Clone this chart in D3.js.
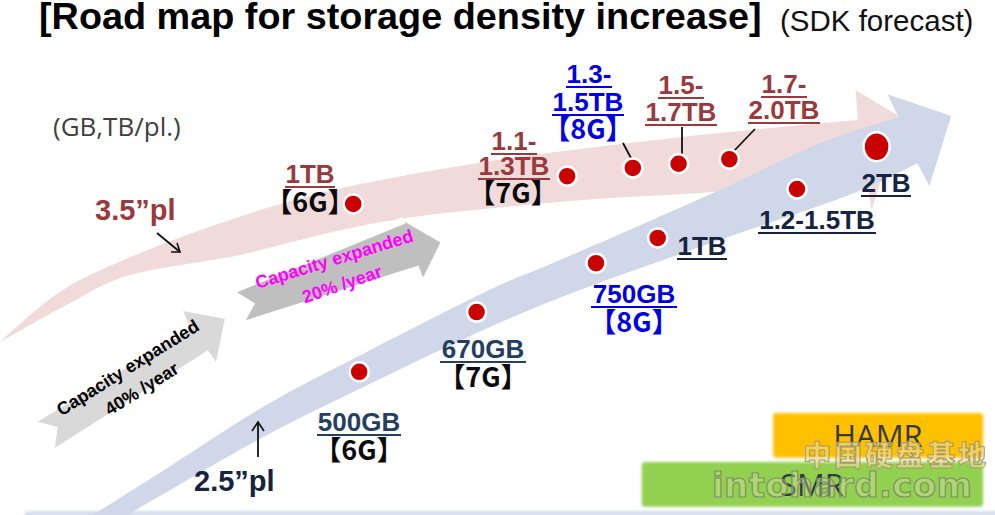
<!DOCTYPE html>
<html>
<head>
<meta charset="utf-8">
<script src="https://cdn.jsdelivr.net/npm/d3@7"></script>
<style>
  html, body { margin: 0; padding: 0; background: #fff; }
  svg { display: block; }
  text { font-family: "Liberation Sans", Arial, sans-serif; }
</style>
</head>
<body>
<script>
// values, x and y are both on a 0-100 roadmap scale
var pl35Names = ["1TB", "1.1-1.3TB", "1.3-1.5TB", "1.5-1.7TB", "1.7-2.0TB"];
var pl35Time = [35.5, 57, 63.6, 68.2, 73.3];
var pl35Density = [60.4, 65.8, 67.4, 68.2, 69.1];

var pl25Names = ["500GB", "670GB", "750GB", "1TB", "1.2-1.5TB", "2TB"];
var pl25Time = [36.1, 47.9, 59.9, 66.1, 80.1, 88.1];
var pl25Density = [27.8, 39.4, 48.9, 53.8, 63.3, 71.5];

// trend arrows, upper edge then head then lower edge
var redUpperX = [0, 6, 12.4, 23.1, 33.5, 48.5, 55.1, 70.4, 86.2];
var redUpperY = [33.6, 43.3, 49.5, 57.3, 63.1, 68.5, 70.3, 73.8, 76.7];
var redHeadX = [86, 90.5, 87.6];
var redHeadY = [82.5, 77.3, 59.2];
var redLowerX = [87, 71.6, 60.3, 49.7, 40.2, 33.5, 24.1, 12.4, 6.7, 0];
var redLowerY = [66, 62.7, 61.4, 59.6, 57.5, 55, 50.5, 46.2, 40.8, 33.6];

var blueUpperX = [9.3, 16.8, 26.8, 36.9, 50.3, 54.8, 71.6, 83.2, 90.3];
var blueUpperY = [0, 9.1, 21.4, 31.7, 44.7, 48.3, 62.5, 72.8, 77.3];
var blueHeadX = [89.2, 95.6, 93.4];
var blueHeadY = [81.7, 77.5, 63.9];
var blueLowerX = [92.2, 86.6, 73.2, 67.5, 57.5, 49.7, 36.9, 26.8, 12.8];
var blueLowerY = [68.3, 63.1, 54, 50.1, 43.1, 36.9, 25.2, 15.5, 0];

var growth40X = [3.8, 5.8, 5.5, 20.9, 21.7, 22.6, 18.4, 19.2];
var growth40Y = [18.1, 17.1, 13.0, 32, 29.7, 38.1, 39.6, 36.1];
var growth20X = [23.6, 25.5, 24.5, 42, 42.5, 44.4, 40.2, 40.6];
var growth20Y = [43.3, 41, 37.5, 48.2, 45.6, 53, 57.7, 56.7];

var techNames = ["HAMR", "SMR"];
var techStart = [77.7, 64.5];
var techEnd = [98.8, 98.8];
var techLow = [11.1, 1.6];
var techHigh = [19.8, 10.3];

var width = 995, height = 515;

var x = d3.scaleLinear().domain([0, 100]).range([0, width]);
var y = d3.scaleLinear().domain([0, 100]).range([height, 0]);

var svg = d3.select("body").append("svg")
    .attr("width", width)
    .attr("height", height);

svg.append("defs").append("filter").attr("id", "soft")
    .attr("x", "-5%").attr("y", "-20%").attr("width", "110%").attr("height", "140%")
    .append("feGaussianBlur").attr("stdDeviation", 1.6);

var zipPoints = function(xs, ys) {
  return xs.map(function(v, i) { return [x(v), y(ys[i])]; });
}

var edge = d3.line().curve(d3.curveCatmullRom.alpha(0.5));
var polyLine = d3.line().curve(d3.curveLinear);

var arrowPath = function(ux, uy, hx, hy, lx, ly) {
  var head = polyLine(zipPoints(hx, hy)).replace("M", "L");
  var lower = edge(zipPoints(lx, ly)).replace("M", "L");
  return edge(zipPoints(ux, uy)) + head + lower + "Z";
}

// bottom strip of the slide
svg.append("rect")
    .attr("x", 25).attr("y", 511).attr("width", width).attr("height", 8)
    .attr("fill", "#d5deea")
    .attr("filter", "url(#soft)");

svg.append("path")
    .attr("d", arrowPath(redUpperX, redUpperY, redHeadX, redHeadY, redLowerX, redLowerY))
    .attr("fill", "#f0dbda");

svg.append("path")
    .attr("d", arrowPath(blueUpperX, blueUpperY, blueHeadX, blueHeadY, blueLowerX, blueLowerY))
    .attr("fill", "#cfd7e8");

// capacity growth arrows
svg.append("path")
    .attr("d", polyLine(zipPoints(growth40X, growth40Y)) + "Z")
    .attr("fill", "#d9d9d9");
svg.append("path")
    .attr("d", polyLine(zipPoints(growth20X, growth20Y)) + "Z")
    .attr("fill", "#bfbfbf")
    .attr("stroke", "#fff")
    .attr("stroke-width", 2);

// technology bars
svg.selectAll(".tech")
    .data(techNames)
    .enter().append("rect")
    .attr("class", "tech")
    .attr("x", function(d, i) { return x(techStart[i]); })
    .attr("y", function(d, i) { return y(techHigh[i]); })
    .attr("width", function(d, i) { return x(techEnd[i]) - x(techStart[i]); })
    .attr("height", function(d, i) { return y(techLow[i]) - y(techHigh[i]); })
    .attr("rx", 3)
    .attr("fill", function(d, i) { return i == 0 ? "#ffc000" : "#92d050"; })
    .attr("filter", "url(#soft)");

svg.selectAll(".techLabel")
    .data(techNames)
    .enter().append("text")
    .attr("class", "techLabel")
    .attr("x", function(d, i) { return i == 0 ? 878 : 812; })
    .attr("y", function(d, i) { return i == 0 ? 447 : 496; })
    .attr("text-anchor", "middle")
    .style("font-family", "'Open Sans'")
    .style("font-size", "31px")
    .attr("fill", "#333a44")
    .text(function(d) { return d; });

// leader lines and small arrows
var strokes = [[623, 143, 632, 160], [682, 127, 682, 157], [755, 129, 732, 153],
               [157, 233, 180, 252], [258, 457, 258, 422]];
svg.selectAll(".stroke")
    .data(strokes)
    .enter().append("line")
    .attr("class", "stroke")
    .attr("x1", function(d) { return d[0]; })
    .attr("y1", function(d) { return d[1]; })
    .attr("x2", function(d) { return d[2]; })
    .attr("y2", function(d) { return d[3]; })
    .attr("stroke", "#111")
    .attr("stroke-width", 1.8);
svg.append("path").attr("d", "M171,252L180,252L177,243").attr("fill", "none").attr("stroke", "#111").attr("stroke-width", 1.6);
svg.append("path").attr("d", "M252,431L258,422L264,431").attr("fill", "none").attr("stroke", "#111").attr("stroke-width", 1.6);

// capacity dots
var drawDots = function(names, times, values) {
  svg.selectAll(null)
      .data(names)
      .enter().append("ellipse")
      .attr("cx", function(d, i) { return x(times[i]); })
      .attr("cy", function(d, i) { return y(values[i]); })
      .attr("rx", function(d) { return d == "2TB" ? 13 : 9.5; })
      .attr("ry", function(d) { return d == "2TB" ? 14.5 : 9.5; })
      .attr("fill", "#c90000")
      .attr("stroke", "#fff")
      .attr("stroke-width", 2.5);
}
drawDots(pl35Names, pl35Time, pl35Density);
drawDots(pl25Names, pl25Time, pl25Density);

// labels: text, center x, baseline, colour, underline half width
var brown = "#983a3e", navy = "#16243f", blue = "#0000e1", slate = "#24405f", black = "#0a0a0a";
var labels = [
  ["1TB", 310, 183, brown, 25],
  ["1.1-", 514, 150, brown, 23],
  ["1.3TB", 514, 175, brown, 36],
  ["1.3-", 589, 83, blue, 23],
  ["1.5TB", 588, 111, blue, 36],
  ["1.5-", 681, 94, brown, 23],
  ["1.7TB", 681, 121, brown, 36],
  ["1.7-", 784, 93, brown, 23],
  ["2.0TB", 784, 119, brown, 36],
  ["2TB", 886, 192, navy, 25],
  ["1.2-1.5TB", 817, 229, navy, 59],
  ["1TB", 702, 255, navy, 25],
  ["750GB", 634, 303, blue, 43],
  ["670GB", 483, 358, slate, 43],
  ["500GB", 359, 431, slate, 42]
];
svg.selectAll(".cap")
    .data(labels)
    .enter().append("text")
    .attr("class", "cap")
    .attr("x", function(d) { return d[1]; })
    .attr("y", function(d) { return d[2]; })
    .attr("text-anchor", "middle")
    .attr("fill", function(d) { return d[3]; })
    .style("font-size", "26px")
    .style("font-weight", "bold")
    .text(function(d) { return d[0]; });
svg.selectAll(".rule")
    .data(labels)
    .enter().append("line")
    .attr("class", "rule")
    .attr("x1", function(d) { return d[1] - d[4]; })
    .attr("x2", function(d) { return d[1] + d[4]; })
    .attr("y1", function(d) { return d[2] + 4; })
    .attr("y2", function(d) { return d[2] + 4; })
    .attr("stroke", function(d) { return d[3]; })
    .attr("stroke-width", 1.8);

var gens = [
  ["【6G】", 310, 212, black],
  ["【7G】", 513, 203, black],
  ["【8G】", 588, 139, blue],
  ["【8G】", 634, 332, blue],
  ["【7G】", 483, 387, black],
  ["【6G】", 359, 460, black]
];
svg.selectAll(".gen")
    .data(gens)
    .enter().append("text")
    .attr("class", "gen")
    .attr("x", function(d) { return d[1]; })
    .attr("y", function(d) { return d[2]; })
    .attr("text-anchor", "middle")
    .attr("fill", function(d) { return d[3]; })
    .style("font-family", "'Noto Sans CJK SC'")
    .style("font-size", "27px")
    .style("font-weight", "bold")
    .text(function(d) { return d[0]; });

// title and side notes
svg.append("text").attr("x", 39).attr("y", 29)
    .style("font-size", "37.8px").style("font-weight", "bold")
    .attr("fill", "#000")
    .text("[Road map for storage density increase]");
svg.append("text").attr("x", 780).attr("y", 31)
    .style("font-size", "29.5px")
    .attr("fill", "#111")
    .text("(SDK forecast)");
svg.append("text").attr("x", 53).attr("y", 136)
    .style("font-family", "'Open Sans'").style("font-size", "26px")
    .attr("fill", "#404040")
    .text("(GB,TB/pl.)");
svg.append("text").attr("x", 95).attr("y", 220)
    .style("font-size", "29px").style("font-weight", "bold")
    .attr("fill", brown)
    .text("3.5”pl");
svg.append("text").attr("x", 194).attr("y", 491)
    .style("font-size", "29px").style("font-weight", "bold")
    .attr("fill", navy)
    .text("2.5”pl");

// text on the growth arrows
var growthText = [
  ["Capacity expanded", 131, 373, -32, "#000"],
  ["40% /year", 145, 394, -32, "#000"],
  ["Capacity expanded", 336, 265, -17, "#ff00ff"],
  ["20% /year", 344, 290, -19, "#ff00ff"]
];
svg.selectAll(".growth")
    .data(growthText)
    .enter().append("text")
    .attr("class", "growth")
    .attr("text-anchor", "middle")
    .attr("transform", function(d) { return "translate(" + d[1] + "," + d[2] + ") rotate(" + d[3] + ")"; })
    .attr("fill", function(d) { return d[4]; })
    .style("font-size", "18px")
    .style("font-weight", "bold")
    .text(function(d) { return d[0]; });

// site watermark
svg.append("text").attr("x", 803).attr("y", 466)
    .style("font-family", "'Noto Sans CJK SC'").style("font-size", "28px").style("font-weight", "900")
    .style("letter-spacing", "3px")
    .attr("fill", "#f2dc9c").attr("fill-opacity", 0.6)
    .attr("stroke", "#a59c66").attr("stroke-width", 1)
    .text("中国硬盘基地");
svg.append("text").attr("x", 712).attr("y", 497)
    .style("font-family", "'DejaVu Sans'").style("font-size", "34px").style("font-weight", "bold")
    .style("letter-spacing", "0.4px")
    .attr("fill", "#e6e6b0").attr("fill-opacity", 0.35)
    .attr("stroke", "#7f8f68").attr("stroke-width", 1.2)
    .text("intohard.com");
</script>
</body>
</html>
